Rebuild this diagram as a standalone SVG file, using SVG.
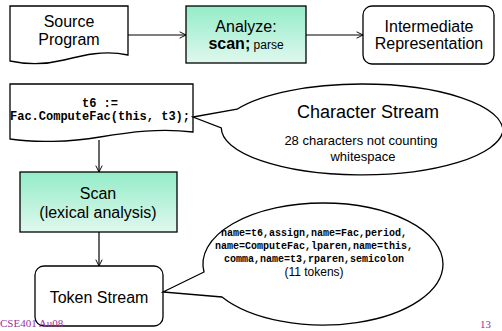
<svg xmlns="http://www.w3.org/2000/svg" width="502" height="331" viewBox="0 0 502 331">
<defs>
<linearGradient id="g" x1="0" y1="0" x2="0" y2="1">
<stop offset="0" stop-color="#94ecc8"/>
<stop offset="1" stop-color="#dff8ee"/>
</linearGradient>
<marker id="a" viewBox="0 0 10 10" refX="9" refY="5" markerWidth="8" markerHeight="8" orient="auto" markerUnits="userSpaceOnUse">
<path d="M1,1 L9,5 L1,9" fill="none" stroke="#000" stroke-width="1.2"/>
</marker>
</defs>
<style>
.s{stroke:#000;stroke-width:1.3;fill:#fff}
.gr{stroke:#000;stroke-width:1.3;fill:url(#g)}
.t{font-family:"Liberation Sans",Arial,sans-serif;fill:#000;text-anchor:middle}
.m{font-family:"Liberation Mono","Courier New",monospace;font-weight:bold;fill:#000;text-anchor:middle}
.c{stroke:#000;stroke-width:1.2;fill:none;marker-end:url(#a)}
.f{font-family:"Liberation Serif","Times New Roman",serif;fill:#993399;font-size:11px}
</style>
<g id="source">
<path class="s" d="M10,6 H128 V55 C104,50 84,55 64,60 C44,65 24,64 10,61 Z"/>
<text class="t" x="69" y="27" font-size="16">Source</text>
<text class="t" x="69" y="45" font-size="16">Program</text>
</g>
<g id="analyze">
<rect class="gr" x="186" y="6" width="120" height="57"/>
<text class="t" x="246" y="32" font-size="16">Analyze:</text>
<text class="t" x="246" y="49" font-size="16"><tspan font-weight="bold">scan;</tspan><tspan font-size="12"> parse</tspan></text>
</g>
<g id="ir">
<rect class="s" x="363" y="6" width="131" height="58" rx="9"/>
<text class="t" x="429" y="32" font-size="16">Intermediate</text>
<text class="t" x="429" y="49" font-size="16">Representation</text>
</g>
<g id="code">
<path class="s" d="M10,84 H193 V132 C160,128 130,132 100,137 C70,142 35,143 10,139 Z"/>
<text class="m" x="100" y="107" font-size="12">t6 :=</text>
<text class="m" x="100" y="120" font-size="12">Fac.ComputeFac(this, t3);</text>
</g>
<g id="charstream">
<path class="s" d="M193,117 L237,109.2 A141,47 0 0 1 362,84 A141,47 0 0 1 503,131 A141,47 0 0 1 221.3,128 Z"/>
<text class="t" x="368" y="118" font-size="18">Character Stream</text>
<text class="t" x="361" y="145" font-size="13">28 characters not counting</text>
<text class="t" x="363" y="161" font-size="13">whitespace</text>
</g>
<g id="scan">
<rect class="gr" x="20" y="172" width="157" height="60"/>
<text class="t" x="98" y="199" font-size="16">Scan</text>
<text class="t" x="98" y="218" font-size="16">(lexical analysis)</text>
</g>
<g id="tokens">
<rect class="s" x="35" y="266" width="128" height="60" rx="9"/>
<text class="t" x="99" y="303" font-size="16">Token Stream</text>
</g>
<g id="tokenstream">
<path class="s" d="M163,292 L204,272 A120,61 0 0 1 323,203 A120,61 0 0 1 443,264 A120,61 0 0 1 222,297 Z"/>
<text class="m" x="314" y="236" font-size="10">name=t6,assign,name=Fac,period,</text>
<text class="m" x="314" y="249" font-size="10">name=ComputeFac,lparen,name=this,</text>
<text class="m" x="314" y="262" font-size="10">comma,name=t3,rparen,semicolon</text>
<text class="t" x="314" y="276" font-size="12">(11 tokens)</text>
</g>
<g id="connectors">
<line class="c" x1="128" y1="35" x2="186" y2="35"/>
<line class="c" x1="306" y1="35" x2="363" y2="35"/>
<line class="c" x1="99" y1="140" x2="99" y2="172"/>
<line class="c" x1="99" y1="232" x2="99" y2="266"/>
</g>
<text class="f" x="0" y="327">CSE401 Au08</text>
<text class="f" x="480" y="328">13</text>
</svg>
